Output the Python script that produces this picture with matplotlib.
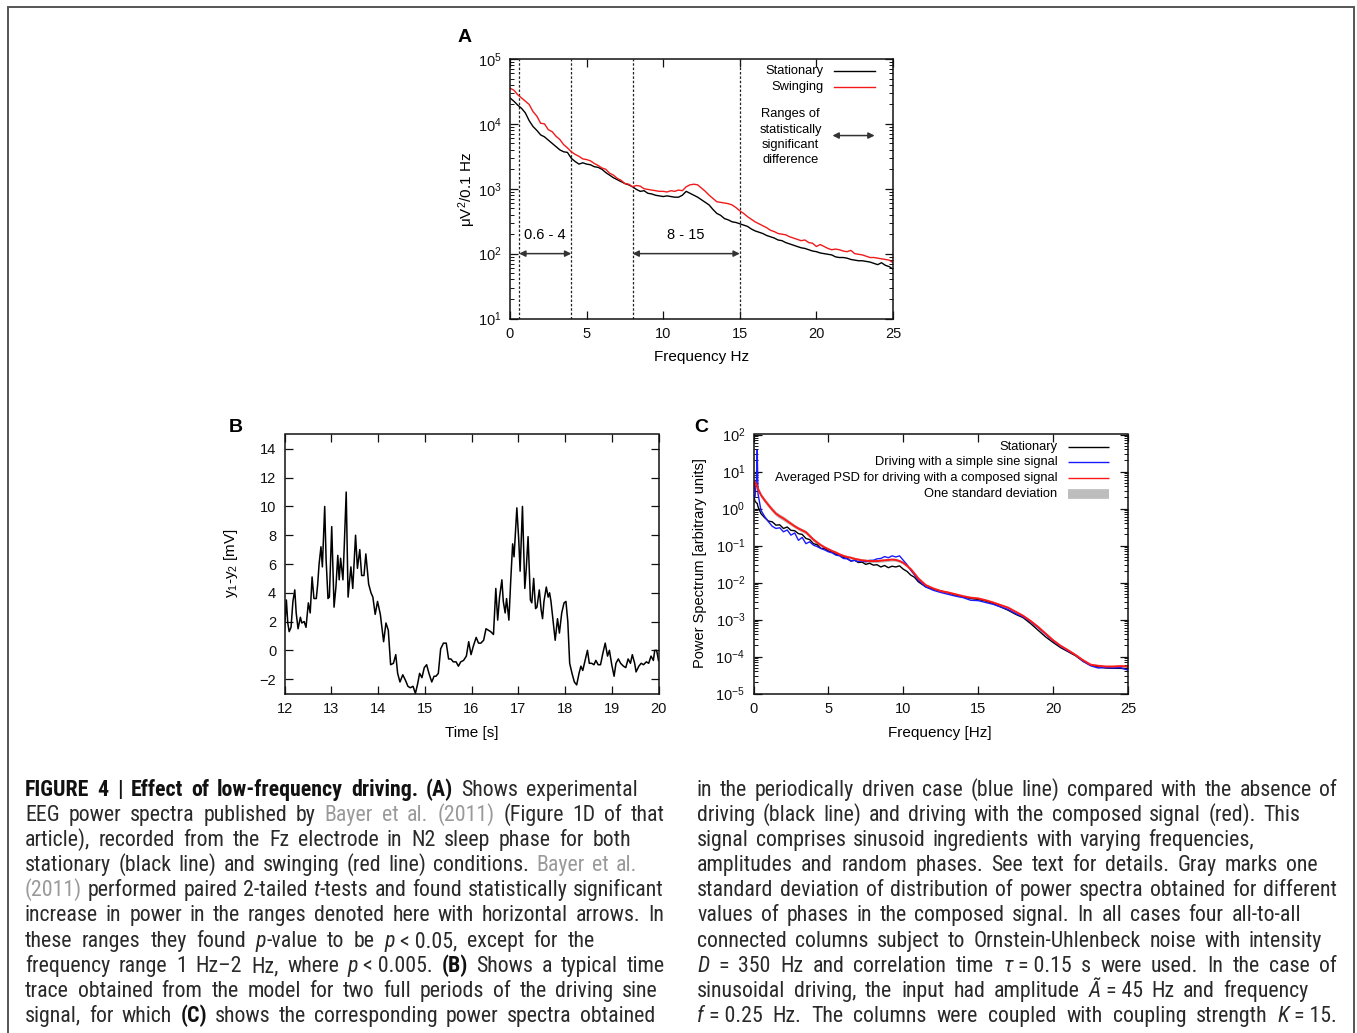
import numpy as np
import matplotlib
matplotlib.use("Agg")
import matplotlib.pyplot as plt
from matplotlib import font_manager
from matplotlib.patches import Rectangle
from matplotlib.ticker import LogLocator

# ---------------- data ----------------
# Panel A: EEG spectra (log10 of uV^2/0.1 Hz), 0..25 Hz step 0.25
a_freq = [i * 0.25 for i in range(101)]
a_swinging_log10 = [
    4.55, 4.52, 4.45, 4.40, 4.35, 4.30, 4.19, 4.12, 4.01, 4.00, 3.91, 3.88, 3.81, 3.76, 3.68, 3.63,
    3.57, 3.53, 3.50, 3.46, 3.45, 3.43, 3.39, 3.36, 3.32, 3.30, 3.24, 3.21, 3.16, 3.13, 3.08, 3.07,
    3.03, 3.05, 3.04, 3.00, 2.99, 2.98, 2.97, 2.96, 2.96, 2.95, 2.97, 2.96, 2.98, 2.97, 3.03, 3.06,
    3.07, 3.06, 3.01, 2.96, 2.90, 2.85, 2.80, 2.79, 2.78, 2.77, 2.75, 2.71, 2.66, 2.62, 2.57, 2.53,
    2.49, 2.46, 2.43, 2.40, 2.36, 2.34, 2.31, 2.30, 2.29, 2.26, 2.24, 2.22, 2.20, 2.21, 2.17, 2.16,
    2.11, 2.14, 2.11, 2.08, 2.06, 2.07, 2.06, 2.04, 2.03, 2.05, 2.00, 1.99, 1.98, 1.96, 1.94, 1.94,
    1.93, 1.92, 1.91, 1.90, 1.86]
a_stationary_log10 = [
    4.40, 4.35, 4.29, 4.24, 4.17, 4.05, 3.96, 3.90, 3.83, 3.80, 3.75, 3.70, 3.65, 3.60, 3.57, 3.56,
    3.47, 3.42, 3.38, 3.40, 3.38, 3.37, 3.34, 3.33, 3.30, 3.25, 3.21, 3.17, 3.14, 3.11, 3.08, 3.06,
    3.03, 2.99, 2.96, 2.97, 2.93, 2.92, 2.90, 2.89, 2.88, 2.89, 2.88, 2.87, 2.87, 2.90, 2.96, 2.93,
    2.90, 2.87, 2.83, 2.79, 2.75, 2.68, 2.62, 2.59, 2.54, 2.52, 2.49, 2.48, 2.46, 2.44, 2.42, 2.38,
    2.35, 2.33, 2.31, 2.28, 2.26, 2.24, 2.21, 2.20, 2.17, 2.15, 2.13, 2.11, 2.09, 2.08, 2.06, 2.04,
    2.03, 2.01, 2.00, 1.99, 1.98, 1.95, 1.94, 1.94, 1.93, 1.91, 1.90, 1.89, 1.89, 1.88, 1.87, 1.85,
    1.83, 1.86, 1.82, 1.80, 1.76]
a_sig_ranges = [(0.6, 4), (8, 15)]
a_range_labels = ["0.6 - 4", "8 - 15"]
a_arrow_level = 100

# Panel B: time trace
b_time = [12.00, 12.04, 12.07, 12.10, 12.14, 12.18, 12.22, 12.25, 12.29, 12.34, 12.37, 12.42, 12.46,
          12.51, 12.55, 12.59, 12.63, 12.68, 12.71, 12.74, 12.78, 12.81, 12.86, 12.89, 12.93, 12.96,
          13.01, 13.06, 13.10, 13.14, 13.17, 13.20, 13.25, 13.28, 13.32, 13.36, 13.42, 13.46, 13.52,
          13.56, 13.61, 13.65, 13.70, 13.74, 13.80, 13.85, 13.89, 13.94, 13.99, 14.05, 14.12, 14.17,
          14.22, 14.27, 14.33, 14.38, 14.42, 14.47, 14.53, 14.59, 14.64, 14.69, 14.75, 14.80, 14.85,
          14.89, 14.94, 14.99, 15.04, 15.09, 15.15, 15.20, 15.24, 15.29, 15.34, 15.40, 15.46, 15.51,
          15.56, 15.61, 15.67, 15.72, 15.77, 15.83, 15.89, 15.94, 15.99, 16.04, 16.10, 16.15, 16.20,
          16.26, 16.31, 16.36, 16.41, 16.47, 16.52, 16.56, 16.60, 16.65, 16.68, 16.72, 16.75, 16.80,
          16.84, 16.88, 16.91, 16.97, 17.01, 17.04, 17.09, 17.14, 17.17, 17.21, 17.26, 17.29, 17.33,
          17.37, 17.40, 17.45, 17.49, 17.52, 17.55, 17.60, 17.64, 17.67, 17.70, 17.75, 17.79, 17.84,
          17.88, 17.93, 17.98, 18.02, 18.06, 18.10, 18.15, 18.20, 18.25, 18.30, 18.34, 18.38, 18.43,
          18.48, 18.52, 18.57, 18.62, 18.66, 18.71, 18.76, 18.81, 18.86, 18.91, 18.95, 19.00, 19.05,
          19.09, 19.14, 19.19, 19.25, 19.30, 19.35, 19.40, 19.44, 19.49, 19.52, 19.58, 19.63, 19.68,
          19.74, 19.79, 19.84, 19.89, 19.92, 19.96, 20.00]
b_voltage = [1.4, 3.5, 1.9, 1.3, 1.6, 3.4, 4.2, 2.6, 1.5, 2.3, 1.9, 2.0, 1.6,
             3.3, 2.6, 5.1, 3.6, 3.6, 4.6, 6.0, 7.2, 5.8, 10.0, 6.3, 3.6, 3.7,
             8.6, 3.0, 4.4, 6.6, 4.9, 6.4, 4.9, 7.4, 11.0, 3.7, 5.8, 4.3, 8.0,
             5.7, 7.0, 5.2, 5.2, 6.7, 4.6, 4.0, 3.7, 2.5, 3.4, 2.5, 0.6, 1.9,
             1.4, -1.0, -0.9, -0.3, -1.6, -2.2, -1.7, -2.1, -2.5, -2.6, -2.5, -3.0, -2.3,
             -1.6, -1.9, -1.2, -1.0, -1.6, -2.2, -1.8, -1.8, -1.6, 0.1, 0.5, 0.5, -0.6,
             -0.6, -0.8, -0.8, -1.1, -0.8, -0.7, -0.4, 0.6, -0.3, 0.3, 0.9, 0.5, 0.5,
             0.7, 1.5, 1.4, 1.3, 1.1, 4.3, 2.1, 3.7, 4.9, 3.4, 2.6, 3.6, 2.1,
             4.9, 7.4, 6.5, 9.9, 7.7, 5.5, 10.0, 4.3, 5.6, 7.9, 3.5, 3.3, 5.0,
             2.9, 3.0, 4.2, 2.8, 2.2, 3.4, 4.4, 3.7, 4.0, 3.4, 1.9, 0.7, 2.2,
             1.2, 2.6, 3.3, 3.4, 2.0, -0.9, -1.6, -2.2, -2.4, -1.6, -1.1, -1.4, -0.7,
             0.0, -0.9, -0.9, -1.0, -0.7, -1.0, -1.0, -0.2, 0.5, -0.4, 0.0, -1.0, -1.8,
             -0.9, -0.6, -0.9, -1.1, -1.2, -0.6, -0.9, -0.3, -0.9, -1.5, -1.1, -0.9, -1.0,
             -0.8, -0.9, -0.4, -0.7, 0.0, 0.0, -0.7]

# Panel C: model spectra (log10 of arbitrary units)
c_freq = ([0, 0.1, 0.2, 0.25, 0.3, 0.5, 0.75]
          + [1 + 0.25 * i for i in range(41)]
          + [11.5 + 0.5 * i for i in range(28)])
c_stationary_log10 = [0.36, 0.20, 0.15, 0.14, 0.05, -0.14, -0.25,
    -0.34, -0.36, -0.45, -0.44, -0.54, -0.50, -0.59, -0.60, -0.68, -0.70, -0.81, -0.84, -0.95, -0.98,
    -1.08, -1.08, -1.15, -1.17, -1.24, -1.26, -1.33, -1.35, -1.42, -1.40, -1.46, -1.45, -1.51, -1.48,
    -1.53, -1.52, -1.58, -1.54, -1.60, -1.56, -1.58, -1.55, -1.64, -1.70, -1.80, -1.86, -1.98,
    -2.12, -2.18, -2.23, -2.28, -2.34, -2.39, -2.43, -2.46, -2.50, -2.57, -2.66, -2.75, -2.86, -2.95,
    -3.11, -3.29, -3.47, -3.62, -3.76, -3.87, -3.98, -4.13, -4.23, -4.28, -4.31, -4.32, -4.32, -4.34]
c_sine_log10 = [0.36, 0.30, 0.80, 1.58, 0.40, -0.05, -0.22,
    -0.36, -0.48, -0.54, -0.52, -0.63, -0.58, -0.72, -0.66, -0.86, -0.78, -0.95, -0.90, -0.99, -1.03,
    -1.08, -1.12, -1.17, -1.20, -1.26, -1.28, -1.35, -1.36, -1.42, -1.40, -1.44, -1.41, -1.44, -1.40,
    -1.40, -1.36, -1.35, -1.30, -1.33, -1.28, -1.31, -1.28, -1.40, -1.52, -1.67, -1.80, -1.94,
    -2.12, -2.21, -2.27, -2.32, -2.37, -2.41, -2.48, -2.49, -2.54, -2.59, -2.66, -2.73, -2.84, -2.93,
    -3.06, -3.22, -3.40, -3.58, -3.73, -3.85, -3.96, -4.13, -4.25, -4.31, -4.30, -4.31, -4.30, -4.37]
c_composed_log10 = [0.45, 0.72, 0.64, 0.59, 0.53, 0.36, 0.22,
    0.09, -0.03, -0.14, -0.21, -0.27, -0.34, -0.41, -0.48, -0.54, -0.59, -0.64, -0.74, -0.84, -0.92,
    -0.99, -1.05, -1.10, -1.15, -1.19, -1.24, -1.28, -1.31, -1.33, -1.36, -1.38, -1.40, -1.41, -1.42,
    -1.42, -1.42, -1.41, -1.40, -1.39, -1.38, -1.39, -1.42, -1.47, -1.55, -1.64, -1.76, -1.89,
    -2.07, -2.16, -2.23, -2.27, -2.32, -2.37, -2.41, -2.43, -2.48, -2.54, -2.61, -2.68, -2.79, -2.90,
    -3.04, -3.20, -3.38, -3.56, -3.71, -3.83, -3.96, -4.10, -4.22, -4.25, -4.27, -4.27, -4.26, -4.27]
c_composed_sd_log10 = ([0.06] * 7 + [0.06] * 6 + [0.05] * 8 + [0.04] * 27 + [0.03] * 28)

# ---------------- fonts ----------------
names = {f.name for f in font_manager.fontManager.ttflist}
def pick(cands, default="DejaVu Sans"):
    for c in cands:
        if c in names:
            return c
    return default
PANEL_FONT = pick(["Liberation Sans", "Arimo", "DejaVu Sans"])
CAP_FONT = pick(["Liberation Sans Narrow", "Roboto Condensed", "DejaVu Sans Condensed", "Liberation Sans"])
plt.rcParams["font.family"] = [PANEL_FONT, "DejaVu Sans"]
plt.rcParams["mathtext.fontset"] = "custom"
plt.rcParams["mathtext.rm"] = PANEL_FONT
plt.rcParams["mathtext.it"] = PANEL_FONT + ":italic"
plt.rcParams["mathtext.default"] = "regular"

W, H = 1357, 1033
fig = plt.figure(figsize=(W / 100, H / 100), dpi=100)
fig.patch.set_facecolor("white")

def add_ax(l, t, r, b):
    return fig.add_axes([l / W, 1 - b / H, (r - l) / W, (b - t) / H])

def ftext(x, y, s, **kw):
    return fig.text(x / W, 1 - y / H, s, **kw)

# outer frame
fig.add_artist(Rectangle((8 / W, -0.05), (1354 - 8) / W, 1.05 - 7 / H,
                         transform=fig.transFigure, fill=False, edgecolor="#555555", lw=1.4))

def style_axes(ax, fs=10.5, pad=5):
    for s in ax.spines.values():
        s.set_linewidth(1.1)
        s.set_color("#111111")
    ax.tick_params(which="both", direction="in", top=True, right=True, labelsize=fs,
                   pad=pad, colors="#111111")
    ax.tick_params(which="major", length=6, width=0.9)
    ax.tick_params(which="minor", length=3, width=0.7)

LEG_FS = 9.3

# ---------------- Panel A ----------------
axA = add_ax(510, 59, 893, 318.5)
axA.set_yscale("log")
axA.set_xlim(0, 25)
axA.set_ylim(1e1, 1e5)
for (lo, hi) in a_sig_ranges:
    for v in (lo, hi):
        axA.axvline(v, color="#222222", lw=0.9, ls=(0, (2, 1.5)))
axA.plot(a_freq, [10 ** v for v in a_stationary_log10], color="black", lw=1.0)
axA.plot(a_freq, [10 ** v for v in a_swinging_log10], color="#f01a1a", lw=1.0)
for (lo, hi), lab in zip(a_sig_ranges, a_range_labels):
    axA.annotate("", xy=(hi, a_arrow_level), xytext=(lo, a_arrow_level),
                 arrowprops=dict(arrowstyle="<|-|>", color="#333333", lw=1.1,
                                 mutation_scale=9, shrinkA=0, shrinkB=0))
    axA.text((lo + hi) / 2, a_arrow_level * 1.95, lab, ha="center", va="center", fontsize=10.5)
axA.set_xticks([0, 5, 10, 15, 20, 25])
axA.yaxis.set_major_locator(LogLocator(base=10, numticks=10))
axA.yaxis.set_minor_locator(LogLocator(base=10, subs=np.arange(2, 10), numticks=10))
style_axes(axA, pad=6)
# legend A
axA.text(0.819, 0.952, "Stationary", transform=axA.transAxes, ha="right", va="center", fontsize=LEG_FS)
axA.plot([0.845, 0.952], [0.952, 0.952], transform=axA.transAxes, color="black", lw=1.0)
axA.text(0.819, 0.894, "Swinging", transform=axA.transAxes, ha="right", va="center", fontsize=LEG_FS)
axA.plot([0.845, 0.952], [0.894, 0.894], transform=axA.transAxes, color="#f01a1a", lw=1.0)
for yy, s in zip([0.788, 0.727, 0.667, 0.609], ["Ranges of", "statistically", "significant", "difference"]):
    axA.text(0.733, yy, s, transform=axA.transAxes, ha="center", va="center", fontsize=LEG_FS)
axA.annotate("", xy=(0.952, 0.705), xytext=(0.842, 0.705), xycoords=axA.transAxes,
             textcoords=axA.transAxes,
             arrowprops=dict(arrowstyle="<|-|>", color="#333333", lw=1.1, mutation_scale=9,
                             shrinkA=0, shrinkB=0))
ftext(467, 190, "μV$^{2}$/0.1 Hz", rotation=90, ha="center", va="center", fontsize=11)
ftext(702, 357, "Frequency Hz", ha="center", va="center", fontsize=11)
ftext(465, 38, "A", ha="center", va="center", fontsize=14, fontweight="bold")

# ---------------- Panel B ----------------
axB = add_ax(284.5, 434.5, 658.5, 693.5)
axB.plot(b_time, b_voltage, color="black", lw=1.1)
axB.set_xlim(12, 20)
axB.set_ylim(-3, 15)
axB.set_xticks(range(12, 21))
axB.set_yticks(range(-2, 15, 2))
style_axes(axB, pad=6)
ftext(231, 563, "y$_1$-y$_2$ [mV]", rotation=90, ha="center", va="center", fontsize=11)
ftext(472, 733, "Time [s]", ha="center", va="center", fontsize=11)
ftext(236, 427, "B", ha="center", va="center", fontsize=14, fontweight="bold")

# ---------------- Panel C ----------------
axC = add_ax(753.5, 434.5, 1128, 693.5)
axC.set_yscale("log")
axC.set_xlim(0, 25)
axC.set_ylim(1e-5, 1e2)
lo_band = [10 ** (m - s) for m, s in zip(c_composed_log10, c_composed_sd_log10)]
hi_band = [10 ** (m + s) for m, s in zip(c_composed_log10, c_composed_sd_log10)]
axC.fill_between(c_freq, lo_band, hi_band, color="#bdbdbd", lw=0)
axC.plot(c_freq, [10 ** v for v in c_stationary_log10], color="black", lw=1.0)
axC.plot(c_freq, [10 ** v for v in c_sine_log10], color="#1a1aff", lw=1.0)
axC.plot(c_freq, [10 ** v for v in c_composed_log10], color="#ff1a1a", lw=1.4)
axC.set_xticks([0, 5, 10, 15, 20, 25])
axC.yaxis.set_major_locator(LogLocator(base=10, numticks=12))
axC.yaxis.set_minor_locator(LogLocator(base=10, subs=np.arange(2, 10), numticks=12))
style_axes(axC, pad=6)
leg_rows = [("Stationary", "black", 1.0), ("Driving with a simple sine signal", "#1a1aff", 1.0),
            ("Averaged PSD for driving with a composed signal", "#ff1a1a", 1.0),
            ("One standard deviation", "#bdbdbd", 7)]
for yy, (s, col, lw) in zip([0.952, 0.893, 0.833, 0.772], leg_rows):
    axC.text(0.812, yy, s, transform=axC.transAxes, ha="right", va="center", fontsize=LEG_FS)
    axC.plot([0.839, 0.950], [yy, yy], transform=axC.transAxes, color=col, lw=lw,
             solid_capstyle="butt")
ftext(700, 563, "Power Spectrum [arbitrary units]", rotation=90, ha="center", va="center", fontsize=10.5)
ftext(940, 733, "Frequency [Hz]", ha="center", va="center", fontsize=11)
ftext(701, 427, "C", ha="center", va="center", fontsize=14, fontweight="bold")

# ---------------- Caption ----------------
N, B_, I_, G_ = "n", "b", "i", "g"
NB = "\u00a0"
caption_left = [
    (789, 638, [("FIGURE 4 | Effect of low-frequency driving.", B_), (" ", N), ("(A)", B_), (" Shows experimental", N)]),
    (814, 665, [("EEG power spectra published by ", N), ("Bayer et al. (2011)", G_), (" (Figure 1D of that", N)]),
    (839, 631, [("article), recorded from the Fz electrode in N2 sleep phase for both", N)]),
    (864, 637, [("stationary (black line) and swinging (red line) conditions. ", N), ("Bayer et al.", G_)]),
    (889, 664, [("(2011)", G_), (" performed paired 2-tailed ", N), ("t", I_), ("-tests and found statistically significant", N)]),
    (914, 664, [("increase in power in the ranges denoted here with horizontal arrows. In", N)]),
    (940, 595, [("these ranges they found ", N), ("p", I_), ("-value to be ", N), ("p", I_), (NB + "<" + NB + "0.05, except for the", N)]),
    (965, 665, [("frequency range 1 Hz–2 Hz, where ", N), ("p", I_), (NB + "<" + NB + "0.005. ", N), ("(B)", B_), (" Shows a typical time", N)]),
    (990, 658, [("trace obtained from the model for two full periods of the driving sine", N)]),
    (1015, 655, [("signal, for which ", N), ("(C)", B_), (" shows the corresponding power spectra obtained", N)]),
]
caption_right = [
    (789, 1337, [("in the periodically driven case (blue line) compared with the absence of", N)]),
    (814, 1300, [("driving (black line) and driving with the composed signal (red). This", N)]),
    (839, 1254, [("signal comprises sinusoid ingredients with varying frequencies,", N)]),
    (864, 1318, [("amplitudes and random phases. See text for details. Gray marks one", N)]),
    (889, 1337, [("standard deviation of distribution of power spectra obtained for different", N)]),
    (914, 1301, [("values of phases in the composed signal. In all cases four all-to-all", N)]),
    (940, 1322, [("connected columns subject to Ornstein-Uhlenbeck noise with intensity", N)]),
    (965, 1337, [("D", I_), (" = 350 Hz and correlation time ", N), ("τ", I_), (NB + "=" + NB + "0.15 s were used. In the case of", N)]),
    (990, 1309, [("sinusoidal driving, the input had amplitude ", N), ("Ã", I_), (NB + "=" + NB + "45 Hz and frequency", N)]),
    (1015, 1337, [("f", I_), (NB + "=" + NB + "0.25 Hz. The columns were coupled with coupling strength ", N), ("K", I_), (NB + "=" + NB + "15.", N)]),
]

renderer = fig.canvas.get_renderer()
CAP_FS = 12.5

def seg_props(style, fs):
    p = dict(fontsize=fs, family=[CAP_FONT, "DejaVu Sans"], color="#2a2a2a")
    if style == B_:
        p["fontweight"] = "bold"
        p["color"] = "#111111"
    if style == I_:
        p["fontstyle"] = "italic"
    if style == G_:
        p["color"] = "#9a9a9a"
    return p

# size the caption font so that the most tightly set line fills its column
_probe = fig.text(0, 0, caption_right[4][2][0][0], **seg_props(N, CAP_FS))
_w = _probe.get_window_extent(renderer).width
_probe.remove()
CAP_FS = min(CAP_FS * (1337 - 697) / _w * 0.985, 16)

def to_words(runs):
    words = [[]]
    for text, st in runs:
        parts = text.split(" ")
        for k, part in enumerate(parts):
            if k > 0:
                words.append([])
            if part:
                words[-1].append((part, st))
    return [w for w in words if w]

def draw_line(y, x0, x1, runs):
    words = to_words(runs)
    items = []
    total = 0.0
    for w in words:
        segs = []
        for part, st in w:
            t = fig.text(0, 0, part, va="baseline", ha="left", **seg_props(st, CAP_FS))
            wd = t.get_window_extent(renderer).width
            segs.append((t, wd))
            total += wd
        items.append(segs)
    gap = (x1 - x0 - total) / max(len(items) - 1, 1)
    x = x0
    for segs in items:
        for t, wd in segs:
            t.set_position((x / W, 1 - (y + 7) / H))
            x += wd
        x += gap

for y, x1, runs in caption_left:
    draw_line(y, 25, x1, runs)
for y, x1, runs in caption_right:
    draw_line(y, 697, x1, runs)

fig.savefig("out.png", dpi=100, facecolor="white")
